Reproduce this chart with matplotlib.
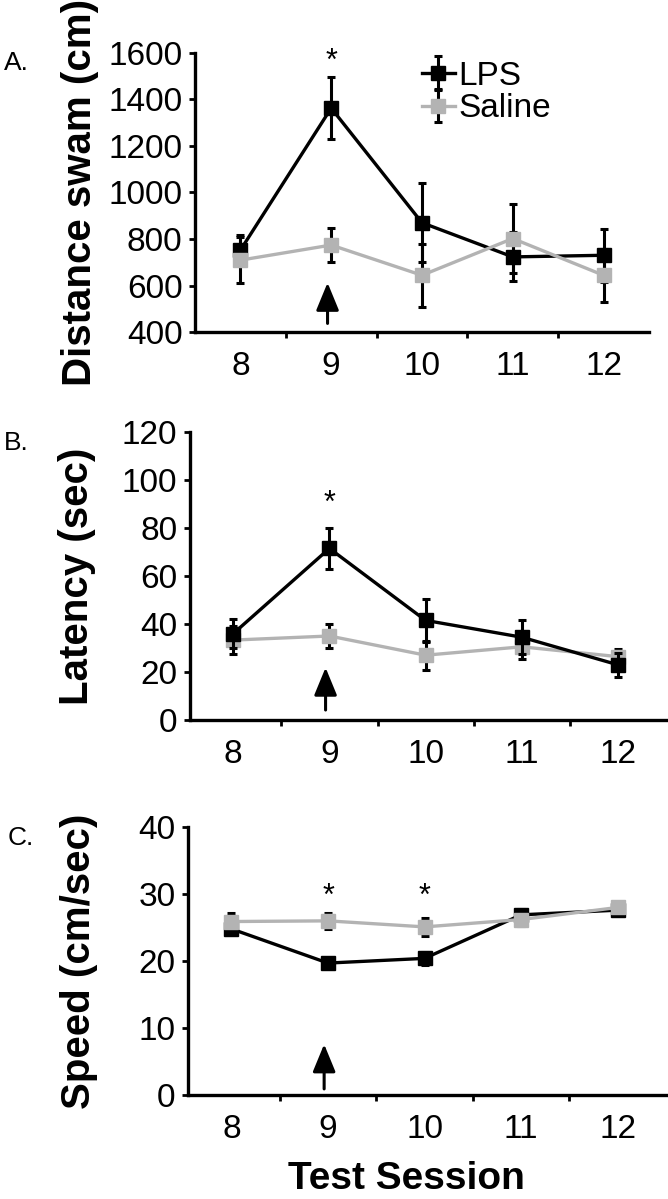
import numpy as np
import matplotlib
matplotlib.use('Agg')
import matplotlib.pyplot as plt

plt.rcParams['font.family'] = ['Liberation Sans', 'DejaVu Sans']

# data
sessions = [8, 9, 10, 11, 12]

dist_lps = [752, 1363, 870, 723, 730]
dist_lps_err = [65, 135, 170, 105, 115]
dist_sal = [709, 774, 644, 802, 644]
dist_sal_err = [100, 75, 135, 150, 115]

lat_lps = [36, 71.5, 41.5, 34.5, 23]
lat_lps_err = [6, 8.5, 9, 7, 5]
lat_sal = [33.3, 35, 27, 30.5, 26.4]
lat_sal_err = [6, 5, 6, 5, 3]

spd_lps = [24.8, 19.7, 20.4, 26.9, 27.6]
spd_lps_err = [0.8, 0.6, 1.0, 0.8, 0.5]
spd_sal = [25.9, 26.0, 25.1, 26.2, 28.0]
spd_sal_err = [1.2, 1.2, 1.3, 1.0, 0.6]

GRAY = '#b3b3b3'

fig = plt.figure(figsize=(6.68, 11.99), dpi=100)

# axes placed to follow the original layout
axA = fig.add_axes([0.2919, 0.7231, 0.6796, 0.2327])
axB = fig.add_axes([0.2844, 0.3995, 0.7126, 0.2402])
axC = fig.add_axes([0.2814, 0.0867, 0.7156, 0.2235])


def draw_panel(ax, lps, lps_err, sal, sal_err, ylim, ystep, xlim, sal_on_top=True):
    z_sal = 4 if sal_on_top else 2
    z_lps = 2 if sal_on_top else 4
    ax.errorbar(sessions, lps, yerr=lps_err, color='black', marker='s',
                markersize=10, linewidth=2.4, ecolor='black', elinewidth=2.2,
                capsize=3, capthick=2.2, zorder=z_lps, label='LPS')
    ax.errorbar(sessions, sal, yerr=sal_err, color=GRAY, marker='s',
                markersize=10, linewidth=2.4, ecolor='black', elinewidth=2.2,
                capsize=3, capthick=2.2, zorder=z_sal, label='Saline')
    ax.set_ylim(*ylim)
    ax.set_xlim(*xlim)
    ax.set_yticks(np.arange(ylim[0], ylim[1] + ystep / 2, ystep))
    ax.set_xticks(sessions)
    ax.set_xticks([8.5, 9.5, 10.5, 11.5], minor=True)
    ax.tick_params(axis='x', which='major', length=0, pad=14, labelsize=24)
    ax.tick_params(axis='x', which='minor', length=4, width=2, direction='out')
    ax.tick_params(axis='y', length=4, width=2, pad=5, labelsize=24)
    for s in ['top', 'right']:
        ax.spines[s].set_visible(False)
    for s in ['left', 'bottom']:
        ax.spines[s].set_linewidth(2.4)


def up_arrow(ax, y0, y1):
    ax.annotate('', xy=(8.96, y1), xytext=(8.96, y0),
                arrowprops=dict(arrowstyle='-|>,head_width=0.7,head_length=1.7',
                                color='black', lw=2.2),
                zorder=5)


draw_panel(axA, dist_lps, dist_lps_err, dist_sal, dist_sal_err,
           (400, 1600), 200, (7.5, 12.5))
draw_panel(axB, lat_lps, lat_lps_err, lat_sal, lat_sal_err,
           (0, 120), 20, (7.55, 12.5), sal_on_top=False)
draw_panel(axC, spd_lps, spd_lps_err, spd_sal, spd_sal_err,
           (0, 40), 10, (7.55, 12.5))

up_arrow(axA, 425, 624)
up_arrow(axB, 3, 23)
up_arrow(axC, 0.5, 8)

# significance stars
axA.text(9, 1560, '*', ha='center', va='center', fontsize=22)
axB.text(9, 90, '*', ha='center', va='center', fontsize=22)
axC.text(9, 29.6, '*', ha='center', va='center', fontsize=22)
axC.text(10, 29.6, '*', ha='center', va='center', fontsize=22)

axA.legend(loc='upper left', bbox_to_anchor=(0.47, 1.02), frameon=False,
           fontsize=24, handlelength=1.0, handletextpad=0.1,
           labelspacing=0.05, borderaxespad=0)

# y labels and panel letters
fig.text(80 / 668, 1 - 192 / 1199, 'Distance swam (cm)', rotation=90,
         ha='center', va='center', fontsize=29, fontweight='bold')
fig.text(77 / 668, 1 - 576 / 1199, 'Latency (sec)', rotation=90,
         ha='center', va='center', fontsize=29, fontweight='bold')
fig.text(79 / 668, 1 - 961 / 1199, 'Speed (cm/sec)', rotation=90,
         ha='center', va='center', fontsize=29, fontweight='bold')

fig.text(4 / 668, 1 - 63 / 1199, 'A.', ha='left', va='center', fontsize=19)
fig.text(4 / 668, 1 - 443 / 1199, 'B.', ha='left', va='center', fontsize=19)
fig.text(8 / 668, 1 - 838 / 1199, 'C.', ha='left', va='center', fontsize=19)

fig.text(406 / 668, 1 - 1179 / 1199, 'Test Session', ha='center', va='center',
         fontsize=28, fontweight='bold')

fig.savefig('out.png', dpi=100)
